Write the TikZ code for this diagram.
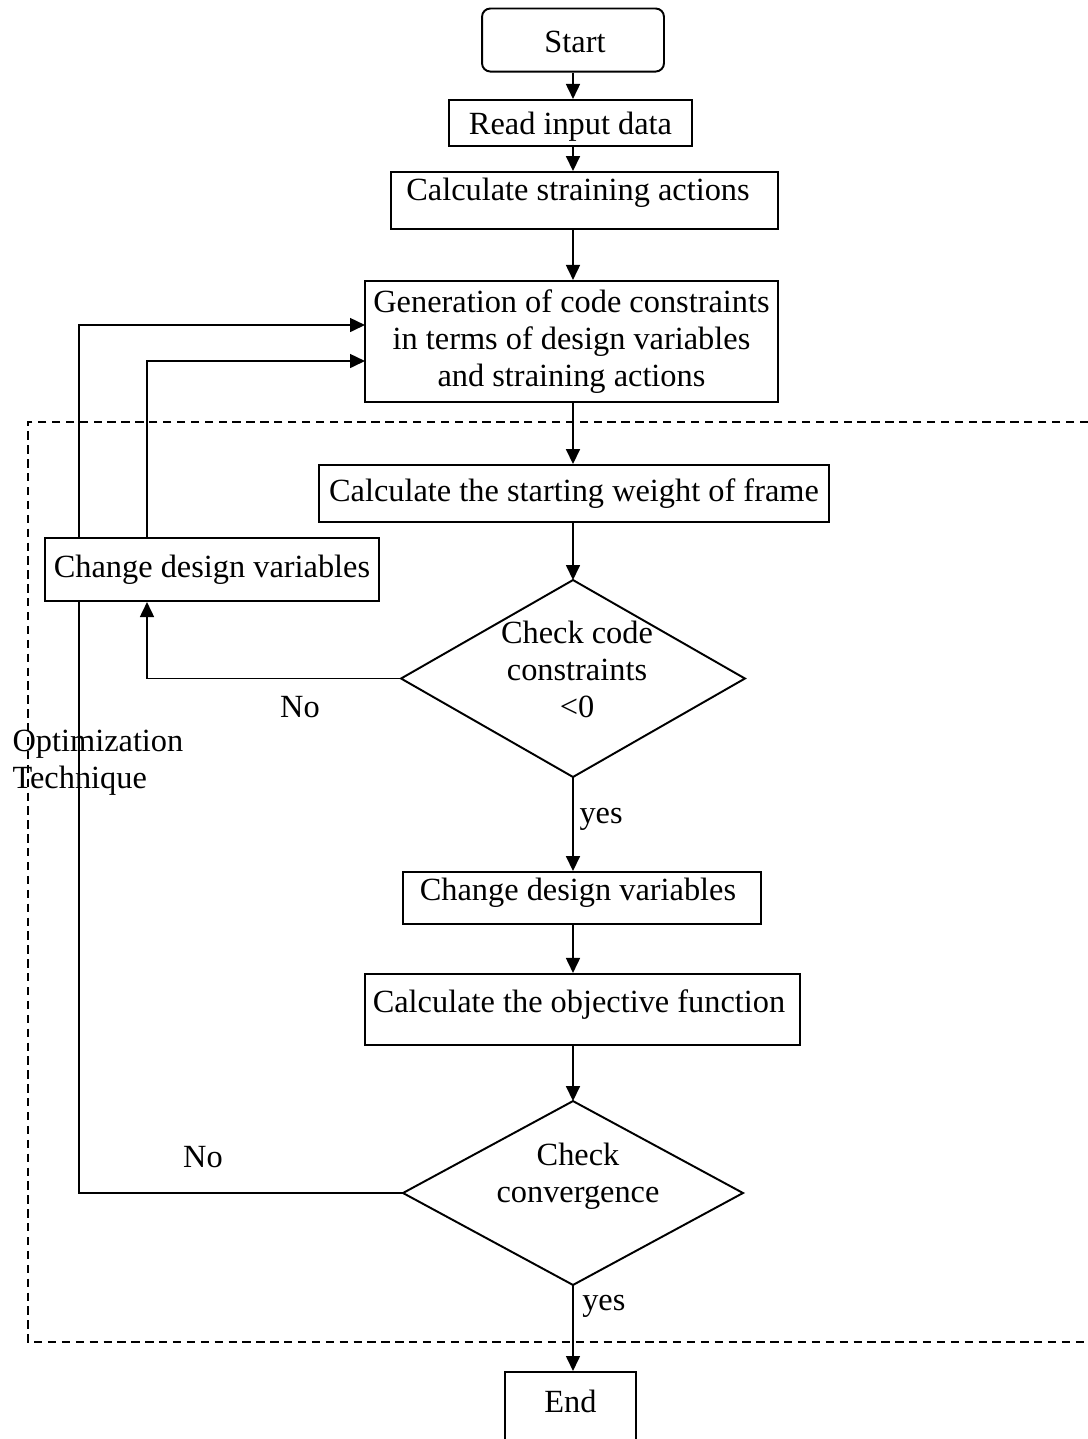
\documentclass[tikz,border=0pt]{standalone}
\usepackage{fontspec}
\setmainfont{Liberation Serif}
\usetikzlibrary{arrows.meta,shapes.geometric}

\tikzset{
  box/.style={draw, line width=0.7pt, inner sep=0pt, fill=white},
  decision/.style={draw, diamond, line width=0.7pt, inner sep=0pt, outer sep=0pt},
  arr/.style={line width=0.7pt, -{Triangle[length=5.4pt,width=5pt]}},
  link/.style={line width=0.7pt},
  txt/.style={align=center, inner sep=0pt}
}

\begin{document}
\begin{tikzpicture}[x=0.36pt, y={(0pt,-0.36pt)}, font=\fontsize{11.65}{13.3}\selectfont]
    \useasboundingbox (0,0) rectangle (1088,1439);

    \node[box, rounded corners=3pt, minimum width=65.5pt, minimum height=22.7pt] (start) at (573,40) {};
    \node[txt] at (575,42) {Start};
    \node[box, minimum width=87.5pt, minimum height=16.6pt] (read) at (570.5,123) {};
    \node[txt] at (570.5,127) {Read input data};
    \node[box, minimum width=139.3pt, minimum height=20.5pt] (strain) at (584.5,200.5) {};
    \node[txt] at (578,193) {Calculate straining actions};
    \node[box, minimum width=148.7pt, minimum height=43.6pt, align=center] (gen) at (571.5,341.5)
        {Generation of code constraints\\in terms of design variables\\and straining actions};
    \node[box, minimum width=183.6pt, minimum height=20.5pt] (weight) at (574,493.5) {Calculate the starting weight of frame};
    \node[box, minimum width=120.2pt, minimum height=22.7pt] (chg1) at (212,569.5) {Change design variables};
    \node[decision, minimum width=123.8pt, minimum height=70.9pt] (c1) at (573,678.5) {};
    \node[txt] at (577,669) {Check code\\constraints\\<0};
    \node[box, minimum width=128.9pt, minimum height=18.7pt] (chg2) at (582,898) {};
    \node[txt] at (578,893) {Change design variables};
    \node[box, minimum width=156.6pt, minimum height=25.6pt] (obj) at (582.5,1009.5) {};
    \node[txt] at (579,1005) {Calculate the objective function};
    \node[decision, minimum width=122.4pt, minimum height=66.2pt] (c2) at (573,1193) {};
    \node[txt] at (578,1176) {Check\\convergence};
    \node[box, minimum width=47.2pt, minimum height=31.7pt] (stop) at (570.5,1416) {};
    \node[txt] at (570.5,1401) {End};

    \coordinate (l1) at (147,0);
    \coordinate (l2) at (79,0);
    \coordinate (in1) at (365,361);
    \coordinate (in2) at (365,325);

    \draw[dash pattern=on 3pt off 2pt, line width=0.6pt] (1088,422) -- (28,422) -- (28,1342) -- (1088,1342);
    \node[txt, align=left, anchor=west] (opt) at (12,763) {Optimization\\Technique};

    \draw[arr] (start) -- (start |- read.north);
    \draw[arr] (read.south -| start) -- (strain.north -| start);
    \draw[arr] (strain.south -| start) -- (gen.north -| start);
    \draw[arr] (gen.south -| start) -- (weight.north -| start);
    \draw[arr] (weight.south -| start) -- (c1.north);
    \draw[arr] (c1.south) -- (chg2.north -| c1.south) node[pos=0.45, right, inner sep=2pt] {yes};
    \draw[arr] (chg2.south -| c1.south) -- (obj.north -| c1.south);
    \draw[arr] (obj.south -| c2.north) -- (c2.north);
    \draw[arr] (c2.south) -- (stop.north -| c2.south) node[pos=0.25, right, inner sep=3pt] {yes};

    \draw[arr] (c1.west) -| (chg1.south -| l1);
    \draw[arr] (chg1.north -| l1) |- (in1);
    \draw[link] (c2.west) -| (chg1.south -| l2);
    \draw[arr] (chg1.north -| l2) |- (in2);

    \node[txt] (no1) at (300,707) {No};
    \node[txt] (no2) at (203,1157) {No};
\end{tikzpicture}
\end{document}
